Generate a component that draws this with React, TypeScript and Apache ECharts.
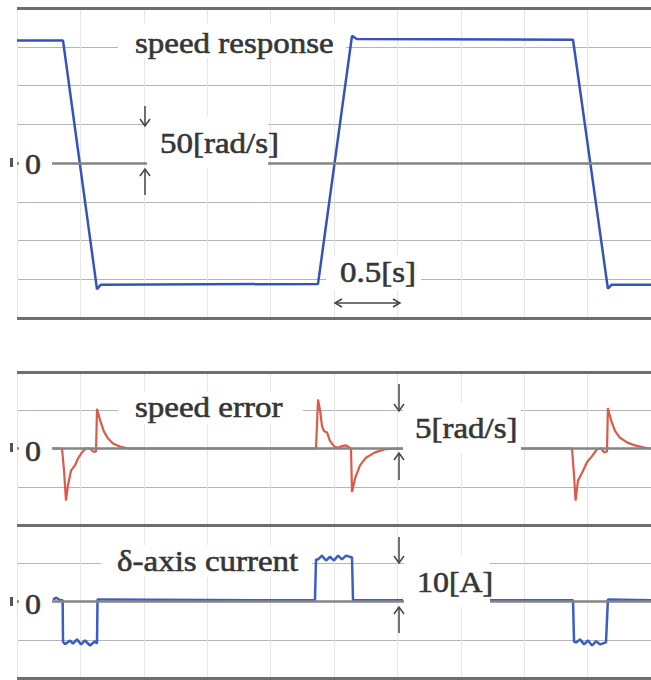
import React, { useEffect, useRef } from "react";
import * as echarts from "echarts";

// time axis (s)
const timeMin = 0;
const timeMax = 5;
const timeStep = 0.5;

// speed response [rad/s]
const speedTime = [0, 0.363, 0.631, 0.66, 2.374, 2.642, 2.68, 4.385, 4.66, 4.69, 5.0];
const speedValue = [158, 158, -163, -157, -156, 164, 160, 159, -162, -157, -157];

// speed error [rad/s]
const errorTime = [
  0.284, 0.355, 0.371, 0.386, 0.402, 0.426, 0.457, 0.481, 0.513, 0.544,
  0.576, 0.6, 0.623, 0.631, 0.655, 0.686, 0.718, 0.757, 0.812, 0.875,
  2.358, 2.374, 2.39, 2.405, 2.42, 2.445, 2.468, 2.5, 2.53, 2.56,
  2.595, 2.634, 2.642, 2.666, 2.705, 2.752, 2.823, 2.902, 3.044, 3.5,
  3.967, 4.377, 4.393, 4.405, 4.424, 4.464, 4.495, 4.535, 4.574, 4.606,
  4.63, 4.653, 4.66, 4.685, 4.716, 4.756, 4.811, 4.874, 4.953, 5.0,
];
const errorValue = [
  0, 0, -2.9, -6.8, -4.8, -2.9, -2.2, -1.3, -0.5, 0,
  0, -0.4, -0.4, 5.2, 3.7, 2.2, 1.3, 0.65, 0.26, 0,
  0, 6.4, 5.0, 3.0, 2.3, 2.1, 1.0, 0.3, 0.1, 0.3,
  0.4, 0, -5.7, -3.9, -2.2, -1.2, -0.5, -0.1, 0, null,
  0, 0, -3.5, -6.8, -4.2, -2.9, -1.8, -1.0, -0.1, 0,
  -0.5, -0.4, 5.3, 3.7, 2.3, 1.4, 0.8, 0.4, 0.1, 0,
];

// delta-axis current [A]
const currentTime = [
  0.284, 0.31, 0.34, 0.36, 0.363, 0.379, 0.418, 0.442, 0.473, 0.505,
  0.536, 0.576, 0.615, 0.631, 0.635, 0.66, 2.35, 2.358, 2.374, 2.405,
  2.437, 2.468, 2.5, 2.532, 2.563, 2.595, 2.642, 2.65, 3.044, 3.4,
  3.73, 4.385, 4.393, 4.409, 4.44, 4.472, 4.503, 4.535, 4.566, 4.598,
  4.645, 4.66, 5.0,
];
const currentValue = [
  0.5, 1.0, 0.3, 0.3, -10.5, -11.2, -10.2, -11, -9.9, -11.2,
  -10.2, -11.5, -10.4, -11, 0.5, 0.5, 0.3, 11, 11, 12,
  10.7, 11.7, 10.7, 12, 11, 12, 11.5, 0.3, 0.3, null,
  0.3, 0.3, -10.5, -10.7, -9.9, -11.2, -10.2, -11.5, -10.4, -11.2,
  -10.7, 0.5, 0.3,
];

// y-axis ranges per panel
const speedAxis = { min: -200, max: 200, interval: 50 };
const errorAxis = { min: -10, max: 10, interval: 5 };
const currentAxis = { min: -20, max: 20, interval: 10 };

const labels = {
  speed: "speed response",
  speedScale: "50[rad/s]",
  time: "0.5[s]",
  error: "speed error",
  errorScale: "5[rad/s]",
  current: "δ-axis current",
  currentScale: "10[A]",
  zero: "0",
};

const pairs = (t: number[], v: (number | null)[]) =>
  t.map((x, i) => [x, v[i] === null ? "-" : v[i]]);

const TEXT_COLOR = "#363636";
const FONT = '"Liberation Serif", "Times New Roman", serif';

export default function App() {
  const ref = useRef<HTMLDivElement>(null);

  useEffect(() => {
    if (!ref.current) return;
    const chart = echarts.init(ref.current, undefined, { renderer: "svg" });

    const xAxisBase = (gridIndex: number) => ({
      type: "value",
      gridIndex,
      min: timeMin,
      max: timeMax,
      interval: timeStep,
      axisLine: { show: false },
      axisTick: { show: false },
      axisLabel: { show: false },
      splitLine: { show: true, lineStyle: { color: "#e6e6e6", width: 1 } },
    });
    const yAxisBase = (gridIndex: number, ax: { min: number; max: number; interval: number }) => ({
      type: "value",
      gridIndex,
      min: ax.min,
      max: ax.max,
      interval: ax.interval,
      axisLine: { show: false },
      axisTick: { show: false },
      axisLabel: { show: false },
      splitLine: { show: true, lineStyle: { color: "#b4b4ba", width: 1 } },
    });
    const frameLines = (ax: { min: number; max: number }, withTop: boolean) => ({
      silent: true,
      symbol: ["none", "none"],
      label: { show: false },
      emphasis: { disabled: true },
      data: [
        ...(withTop ? [{ yAxis: ax.max, lineStyle: { color: "#6e6e6e", width: 3, type: "solid" } }] : []),
        { yAxis: ax.min, lineStyle: { color: "#6e6e6e", width: 3, type: "solid" } },
        { yAxis: 0, lineStyle: { color: "#858585", width: 2.5, type: "solid" } },
      ],
    });

    const txt = (text: string, x: number, y: number, size: number) => ({
      type: "text",
      x,
      y,
      scaleX: 1.1,
      z: 60,
      style: {
        text,
        font: `${size}px ${FONT}`,
        fill: TEXT_COLOR,
        stroke: TEXT_COLOR,
        lineWidth: 0.6,
        align: "left",
        verticalAlign: "middle",
      },
    });
    const cover = (x: number, y: number, w: number, h: number) => ({
      type: "rect",
      z: 50,
      shape: { x, y, width: w, height: h },
      style: { fill: "#ffffff" },
    });
    const arrowStyle = { stroke: "#444", lineWidth: 1.5, fill: "none" };
    const vArrow = (x: number, y1: number, y2: number, down: boolean) => {
      const tip = down ? y2 : y1;
      const d = down ? -7 : 7;
      return [
        { type: "line", z: 60, shape: { x1: x, y1, x2: x, y2 }, style: arrowStyle },
        {
          type: "polyline",
          z: 60,
          shape: { points: [[x - 5, tip + d], [x, tip], [x + 5, tip + d]] },
          style: arrowStyle,
        },
      ];
    };
    const zeroMark = (y: number) => ({
      type: "rect",
      z: 60,
      shape: { x: 10, y: y - 5, width: 3, height: 9 },
      style: { fill: "#555" },
    });

    const graphic: any[] = [
      // covers (white label backgrounds)
      cover(118, 24, 228, 34),
      cover(147, 116, 121, 52),
      cover(326, 256, 95, 34),
      cover(19, 148, 33, 30),
      cover(118, 392, 185, 32),
      cover(403, 402, 118, 52),
      cover(19, 434, 33, 30),
      cover(101, 545, 211, 32),
      cover(404, 555, 86, 52),
      cover(19, 588, 33, 30),
      // texts
      txt(labels.speed, 135, 43, 30),
      txt(labels.speedScale, 160, 143, 30),
      txt(labels.zero, 25, 164, 29),
      txt(labels.time, 340, 272, 30),
      txt(labels.error, 135, 407, 30),
      txt(labels.errorScale, 415, 428, 30),
      txt(labels.zero, 25, 451, 29),
      txt(labels.current, 117, 561, 30),
      txt(labels.currentScale, 417, 582, 29),
      txt(labels.zero, 25, 604, 29),
      // arrows
      ...vArrow(145, 106, 126, true),
      ...vArrow(145, 169, 195, false),
      ...vArrow(399, 384, 411, true),
      ...vArrow(399, 453, 480, false),
      ...vArrow(399, 537, 563, true),
      ...vArrow(399, 607, 633, false),
      { type: "line", z: 60, shape: { x1: 335, y1: 303, x2: 400, y2: 303 }, style: arrowStyle },
      { type: "polyline", z: 60, shape: { points: [[342, 299], [335, 303], [342, 307]] }, style: arrowStyle },
      { type: "polyline", z: 60, shape: { points: [[393, 299], [400, 303], [393, 307]] }, style: arrowStyle },
      zeroMark(163),
      zeroMark(448),
      zeroMark(602),
    ];

    chart.setOption({
      animation: false,
      backgroundColor: "#ffffff",
      grid: [
        { left: 17, top: 8, right: 0, height: 310 },
        { left: 17, top: 372, right: 0, height: 153 },
        { left: 17, top: 525, right: 0, height: 153 },
      ],
      xAxis: [xAxisBase(0), xAxisBase(1), xAxisBase(2)],
      yAxis: [yAxisBase(0, speedAxis), yAxisBase(1, errorAxis), yAxisBase(2, currentAxis)],
      series: [
        {
          name: "speed response",
          type: "line",
          xAxisIndex: 0,
          yAxisIndex: 0,
          data: pairs(speedTime, speedValue),
          showSymbol: false,
          lineStyle: { color: "#3553b8", width: 2.5 },
          markLine: frameLines(speedAxis, true),
        },
        {
          name: "speed error",
          type: "line",
          xAxisIndex: 1,
          yAxisIndex: 1,
          data: pairs(errorTime, errorValue),
          showSymbol: false,
          connectNulls: false,
          lineStyle: { color: "#dd5a48", width: 2.2 },
          markLine: frameLines(errorAxis, true),
        },
        {
          name: "delta-axis current",
          type: "line",
          xAxisIndex: 2,
          yAxisIndex: 2,
          data: pairs(currentTime, currentValue),
          showSymbol: false,
          connectNulls: false,
          lineStyle: { color: "#3a5fc4", width: 2.5 },
          markLine: frameLines(currentAxis, false),
        },
      ],
      graphic,
    });

    return () => chart.dispose();
  }, []);

  return (
    <div
      ref={ref}
      style={{ position: "fixed", left: 0, top: 0, width: 651, height: 680, background: "#fff" }}
    />
  );
}
